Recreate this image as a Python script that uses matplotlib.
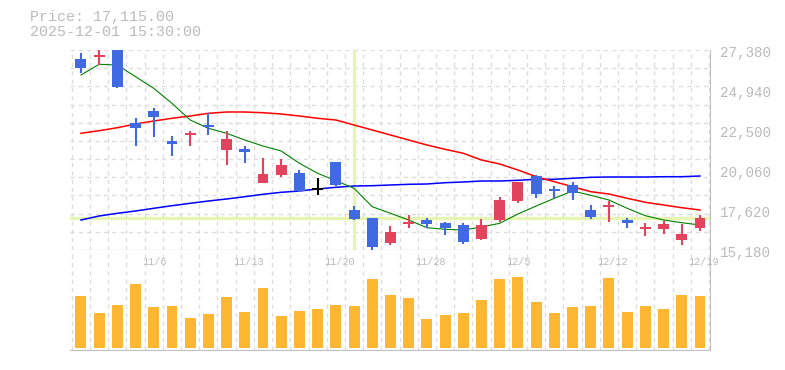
import numpy as np
import matplotlib
matplotlib.use('Agg')
import matplotlib.pyplot as plt
import matplotlib.transforms as mtransforms

# daily OHLC (JPY), 2025-10-30 .. 2025-12-19
opens  = [26831, 26971, 27380, 22945, 23659, 21829, 22195, 22805, 21280, 21341,
          19285, 19755, 19896, 18840, 20548, 17620, 17150, 15627, 16748, 17010,
          16845, 16705, 15851, 17010, 18187, 19694, 18901, 19127, 17620, 17822,
          17010, 16461, 16461, 15790, 16540]
highs  = [27215, 27380, 27380, 23250, 23842, 22134, 22439, 23555, 22439, 21524,
          20810, 20731, 20060, 19590, 20548, 17882, 17150, 16644, 17315, 17150,
          16906, 16808, 17071, 18431, 19310, 19755, 19100, 19310, 17925, 18169,
          17150, 16808, 16949, 16766, 17315]
lows   = [26000, 26465, 25080, 21524, 22091, 20932, 21524, 22195, 20365, 20505,
          19250, 19651, 18737, 18535, 19100, 17010, 15180, 15505, 16540, 16540,
          16095, 15546, 15790, 16906, 18065, 18370, 18334, 18230, 17071, 16906,
          16540, 16034, 16156, 15485, 16339]
closes = [26300, 27093, 25141, 22640, 23311, 21664, 22256, 22683, 21951, 21176,
          19816, 20365, 18779, 18840, 19145, 17071, 15381, 16278, 16906, 16784,
          16540, 15686, 16705, 18230, 19310, 18614, 18797, 18675, 17212, 17944,
          16845, 16583, 16784, 16156, 17115]

ma5  = [25855, 26508, 26465, 25751, 25044, 24129, 23110, 22604, 22299, 21890,
        21524, 21219, 20469, 19859, 19407, 18944, 17821, 17419, 17010, 16540,
        16443, 16400, 16583, 16809, 17376, 17864, 18334, 18779, 18517, 18230,
        17724, 17272, 17010, 16845, 16705]
ma25 = [22299, 22457, 22640, 22866, 23049, 23214, 23354, 23519, 23598, 23598,
        23555, 23476, 23354, 23214, 23110, 22805, 22500, 22195, 21890, 21585,
        21323, 21079, 20670, 20426, 20060, 19651, 19346, 19041, 18736, 18596,
        18334, 18090, 17925, 17760, 17620]
ma75 = [17010, 17254, 17419, 17559, 17724, 17882, 18029, 18169, 18291, 18431,
        18578, 18700, 18779, 18901, 19005, 19084, 19102, 19145, 19188, 19206,
        19285, 19328, 19389, 19389, 19432, 19493, 19493, 19554, 19615, 19633,
        19633, 19633, 19651, 19651, 19694]

volume = [52, 35, 43, 64, 41, 42, 30, 34, 51, 36, 60, 32, 37, 39, 43, 42, 69, 53,
          50, 29, 33, 35, 48, 69, 71, 46, 35, 41, 42, 70, 36, 42, 39, 53, 52]

date_labels = ['11/6', '11/13', '11/20', '11/28', '12/5', '12/12', '12/19']
date_index = [4, 9, 14, 19, 24, 29, 34]
price_ticks = [15180, 17620, 20060, 22500, 24940, 27380]

hover_index = 15
hover_price = 17115
hover_time = '2025-12-01 15:30:00'

UP = '#e2435d'
DOWN = '#4169e1'
TXT = '#bbbbbb'
GRID = '#dddddd'
FONT = 'Liberation Mono'

x = np.arange(len(closes))
o = np.array(opens, float)
c = np.array(closes, float)
colors = [UP if cc > oo else DOWN if cc < oo else 'black' for oo, cc in zip(o, c)]

fig = plt.figure(figsize=(7.85, 3.7), dpi=100)
ax = fig.add_axes([70/785, 120/370, 640/785, 200/370])
axv = fig.add_axes([70/785, 20/370, 640/785, 100/370], sharex=ax)

ymin, ymax = price_ticks[0], price_ticks[-1]
ax.set_xlim(-0.6, 34.55)
ax.set_ylim(ymin, ymax)

# grid
for a in (ax, axv):
    a.set_xticks(np.arange(-0.5, len(x), 1.0))
    a.tick_params(length=0, labelbottom=False, labelleft=False)
    a.grid(axis='x', color=GRID, ls=(0, (3, 3)), lw=1)
    a.set_axisbelow(True)
    for s in ('top', 'left'):
        a.spines[s].set_visible(False)
    for s in ('right', 'bottom'):
        a.spines[s].set_color('#c0c0c0')
ax.set_yticks(np.linspace(ymin, ymax, 12))
ax.grid(axis='y', color=GRID, ls=(0, (3, 3)), lw=1)
axv.set_yticks([])

# crosshair
ax.axvline(hover_index, color='#e6f5b0', lw=2.4, zorder=1)
ax.axhline(hover_price, color='#e6f5b0', lw=2.4, zorder=1)

# moving averages
ax.plot(x, ma75, color='#0000ff', lw=1.1, zorder=2)
ax.plot(x, ma25, color='#ff0000', lw=1.1, zorder=2)
ax.plot(x, ma5, color='#008000', lw=0.8, zorder=2)

# candles
min_h = (ymax - ymin) / 200 * 1.8
body_bot = np.minimum(o, c)
body_h = np.maximum(np.abs(c - o), min_h)
ax.vlines(x, lows, highs, colors=colors, lw=1.5, zorder=3)
ax.bar(x, body_h, bottom=body_bot, width=0.6, color=colors, zorder=4)

# price labels on right
lab_tr = mtransforms.offset_copy(ax.get_yaxis_transform(), fig=fig, x=10, y=-3, units='dots')
for v in price_ticks:
    ax.text(1, v, f'{v:,}', transform=lab_tr, ha='left', va='center',
            color=TXT, fontsize=10.3, family=FONT, clip_on=False)

# volume
axv.bar(x, volume, width=0.6, color='#ffb733', zorder=2)
axv.set_ylim(-2, 98)
for i, lab in zip(date_index, date_labels):
    axv.text(i - 0.66, 0.88, lab, transform=axv.get_xaxis_transform(),
             ha='left', va='center', color=TXT, fontsize=7.3, family=FONT)

fig.text(30/785, 1 - 17/370, f'Price: {hover_price:,.2f}', color=TXT,
         fontsize=10.8, family=FONT, va='center', ha='left')
fig.text(30/785, 1 - 32/370, hover_time, color=TXT,
         fontsize=10.8, family=FONT, va='center', ha='left')

fig.savefig('out.png', dpi=100, facecolor='white')
